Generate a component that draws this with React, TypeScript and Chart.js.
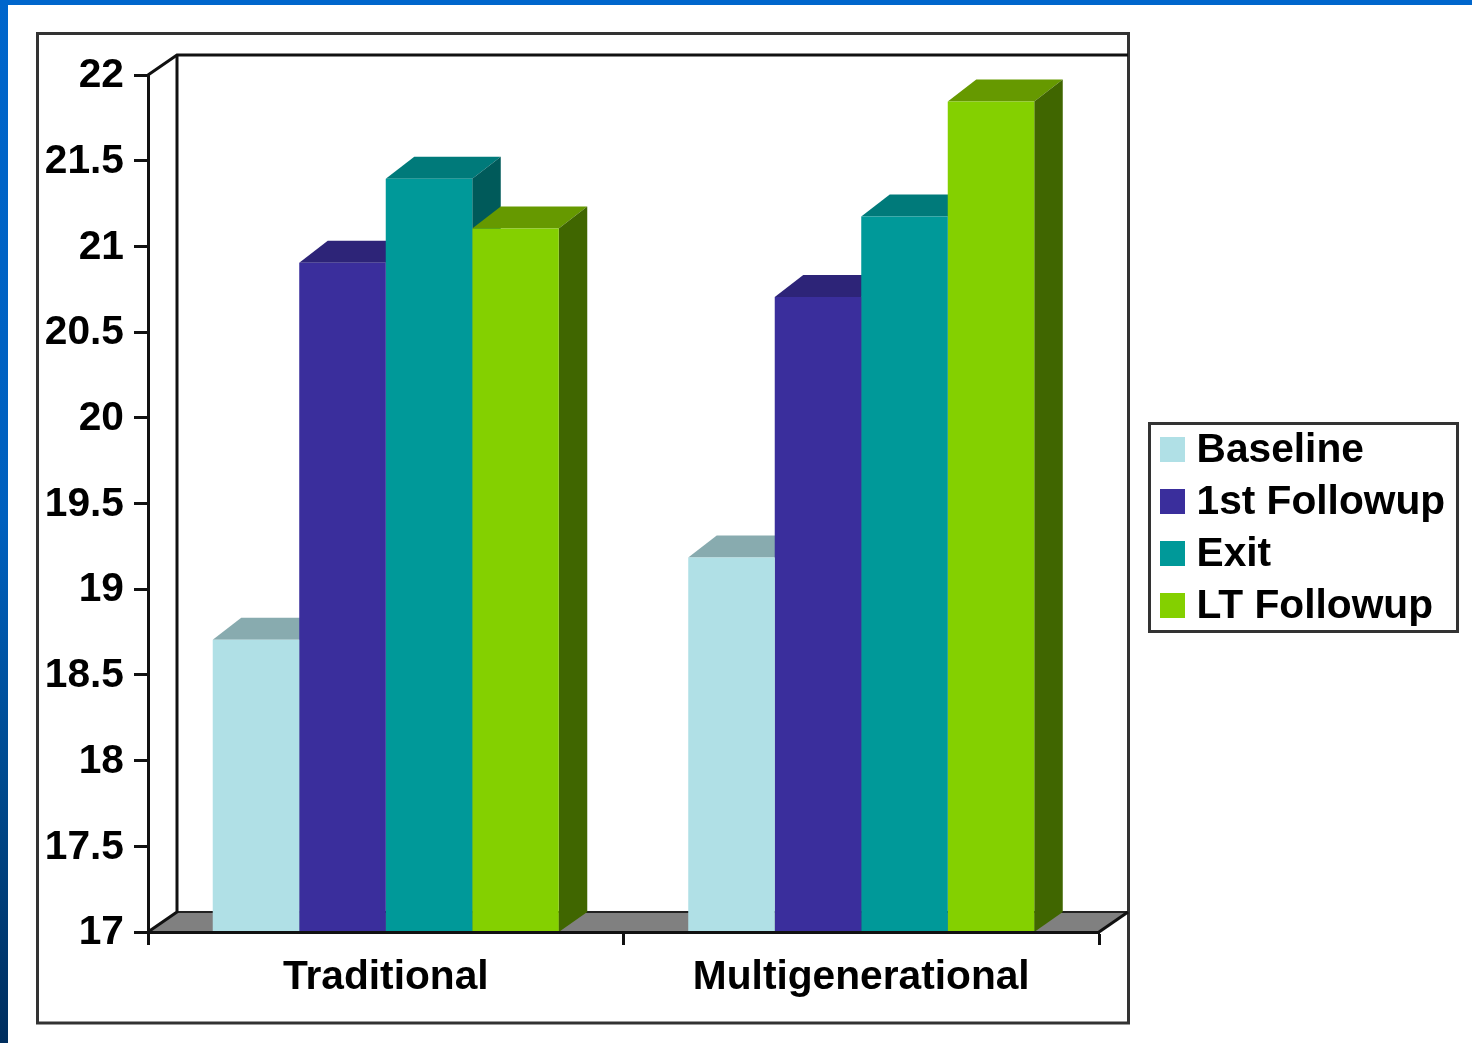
import React, { useEffect, useRef } from "react";
import { Chart, registerables } from "chart.js";

Chart.register(...registerables);

const categories = ["Traditional", "Multigenerational"];
const seriesNames = ["Baseline", "1st Followup", "Exit", "LT Followup"];
const baseline = [18.705, 19.185];
const firstFollowup = [20.905, 20.705];
const exitValues = [21.395, 21.175];
const ltFollowup = [21.105, 21.845];
const frontColors = ["#B0E0E6", "#3A2E9C", "#009999", "#84D000"];
const topColors = ["#88ABAF", "#2D2478", "#007A7A", "#669900"];
const sideColors = ["#6F8E92", "#221B5C", "#005A5A", "#406600"];

const FONT = "'Liberation Sans', Arial, sans-serif";
const FONT_SIZE = 40.7;
const DX = 28.5;
const DY = 22;
const WALL_DX = 29;
const WALL_DY = 20;

function poly(ctx: CanvasRenderingContext2D, pts: number[][], fill: string) {
  ctx.beginPath();
  pts.forEach((p, i) => (i ? ctx.lineTo(p[0], p[1]) : ctx.moveTo(p[0], p[1])));
  ctx.closePath();
  ctx.fillStyle = fill;
  ctx.fill();
}

function line(ctx: CanvasRenderingContext2D, pts: number[][], w: number, color = "#111") {
  ctx.beginPath();
  pts.forEach((p, i) => (i ? ctx.lineTo(p[0], p[1]) : ctx.moveTo(p[0], p[1])));
  ctx.lineWidth = w;
  ctx.strokeStyle = color;
  ctx.stroke();
}

const slidePlugin = {
  id: "slide",
  beforeDraw(chart: any) {
    const { ctx, width, height } = chart;
    ctx.save();
    ctx.fillStyle = "#FFFFFF";
    ctx.fillRect(0, 0, width, height);
    const g = ctx.createLinearGradient(0, 0, 0, height);
    g.addColorStop(0, "#0066CC");
    g.addColorStop(0.5, "#0060BE");
    g.addColorStop(0.75, "#004A8E");
    g.addColorStop(1, "#002E5E");
    ctx.fillStyle = g;
    ctx.fillRect(0, 0, 8, height);
    ctx.fillStyle = "#0066CC";
    ctx.fillRect(0, 0, width, 5);
    ctx.lineWidth = 3;
    ctx.strokeStyle = "#333";
    ctx.strokeRect(37.5, 33.5, 1091, 989.5);
    ctx.restore();
  },
  beforeDatasetsDraw(chart: any) {
    const { ctx, chartArea: a } = chart;
    const { left, right, top, bottom } = a;
    ctx.save();
    // floor and walls of the 3-D box
    poly(ctx, [[left, bottom], [left + WALL_DX, bottom - WALL_DY], [right + WALL_DX, bottom - WALL_DY], [right, bottom]], "#808080");
    line(ctx, [[left + WALL_DX, bottom - WALL_DY], [right + WALL_DX, bottom - WALL_DY]], 2, "#222");
    line(ctx, [[left, top], [left + WALL_DX, top - WALL_DY], [right + WALL_DX, top - WALL_DY]], 3);
    line(ctx, [[left + WALL_DX, top - WALL_DY], [left + WALL_DX, bottom - WALL_DY], [left, bottom]], 3);
    line(ctx, [[right, bottom], [right + WALL_DX, bottom - WALL_DY]], 3);
    // top and side faces, painted from the back series forward
    chart.data.datasets.forEach((_: any, di: number) => {
      chart.getDatasetMeta(di).data.forEach((bar: any) => {
        const x0 = bar.x - bar.width / 2;
        const x1 = bar.x + bar.width / 2;
        const y = bar.y;
        poly(ctx, [[x0, y], [x0 + DX, y - DY], [x1 + DX, y - DY], [x1, y]], topColors[di]);
        poly(ctx, [[x1, y], [x1 + DX, y - DY], [x1 + DX, bottom - WALL_DY], [x1, bottom]], sideColors[di]);
      });
    });
    ctx.restore();
  },
  afterDraw(chart: any) {
    const { ctx } = chart;
    ctx.save();
    ctx.lineWidth = 3;
    ctx.strokeStyle = "#333";
    ctx.strokeRect(1149.5, 423.5, 308, 208);
    ctx.font = `bold ${FONT_SIZE}px ${FONT}`;
    ctx.textBaseline = "middle";
    ctx.textAlign = "left";
    chart.data.datasets.forEach((ds: any, i: number) => {
      const cy = 449.5 + i * 52;
      ctx.fillStyle = ds.backgroundColor;
      ctx.fillRect(1160, cy - 12.5, 25, 25);
      ctx.fillStyle = "#000";
      ctx.fillText(ds.label, 1196.5, cy + 1.5);
    });
    ctx.restore();
  },
};

export default function App() {
  const ref = useRef<HTMLCanvasElement>(null);
  useEffect(() => {
    const seriesValues = [baseline, firstFollowup, exitValues, ltFollowup];
    const chart = new Chart(ref.current as HTMLCanvasElement, {
      type: "bar",
      plugins: [slidePlugin],
      data: {
        labels: categories,
        datasets: seriesNames.map((label, i) => ({
          label,
          data: seriesValues[i],
          backgroundColor: frontColors[i],
          borderWidth: 0,
          barPercentage: 1,
          categoryPercentage: 0.7277,
        })),
      },
      options: {
        responsive: false,
        animation: false,
        devicePixelRatio: 1,
        events: [],
        layout: { padding: { left: 36, top: 75, right: 373, bottom: 20 } },
        plugins: { legend: { display: false }, tooltip: { enabled: false } },
        scales: {
          x: {
            afterFit: (s: any) => { s.height = 91; },
            grid: { drawOnChartArea: false, drawTicks: true, tickLength: 13, tickColor: "#111", tickWidth: 3, color: "#111" },
            border: { color: "#111", width: 3, z: 1 },
            ticks: { color: "#000", font: { family: FONT, size: FONT_SIZE, weight: "bold" }, padding: 8, labelOffset: 0, maxRotation: 0 },
          },
          y: {
            min: 17,
            max: 22,
            afterFit: (s: any) => { s.width = 112; },
            grid: { drawOnChartArea: false, drawTicks: true, tickLength: 14, tickColor: "#111", tickWidth: 3, color: "#111" },
            border: { color: "#111", width: 3 },
            ticks: {
              stepSize: 0.5,
              color: "#000",
              padding: 10,
              labelOffset: 1,
              font: { family: FONT, size: FONT_SIZE, weight: "bold" },
              callback: (v: any) => String(v),
            },
          },
        },
      },
    } as any);
    return () => chart.destroy();
  }, []);
  return (
    <canvas
      ref={ref}
      width={1472}
      height={1043}
      style={{ position: "fixed", left: 0, top: 0, display: "block", width: 1472, height: 1043 }}
    />
  );
}
